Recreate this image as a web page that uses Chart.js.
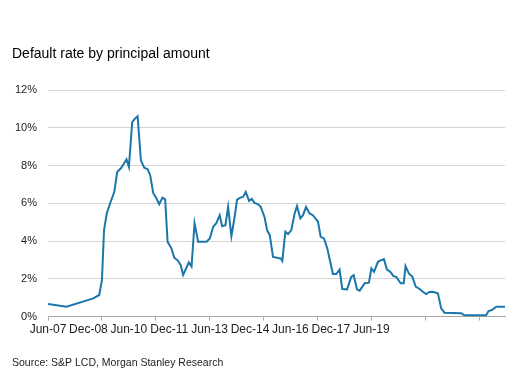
<!DOCTYPE html>
<html><head><meta charset="utf-8">
<script src="https://cdn.jsdelivr.net/npm/chart.js@4/dist/chart.umd.min.js"></script>
<style>html,body{margin:0;padding:0;background:#fff;}#wrap{width:507px;height:379px;position:relative;}</style>
</head><body><div id="wrap"><canvas id="c" width="507" height="379"></canvas></div>
<script>
const titleText = 'Default rate by principal amount';
const sourceText = 'Source: S&P LCD, Morgan Stanley Research';
const xLabels = ['Jun-07','Dec-08','Jun-10','Dec-11','Jun-13','Dec-14','Jun-16','Dec-17','Jun-19'];
const xTickMonths = [0,18,36,54,72,90,108,126,144];
const yTicks = [0,2,4,6,8,10,12];
// months since Jun-07 (as positioned on the reference axis)
const months = [0,6.2,15.1,17.1,18.0,18.7,19.6,20.7,22.1,23.1,24.4,26.2,27.0,28.1,29.0,29.9,31.0,32.1,33.2,34.1,35.1,36.2,37.1,38.2,39.1,39.9,41.2,42.1,43.4,44.3,45.1,47.0,47.9,48.9,50.1,52.9,54.0,55.1,56.2,57.3,58.1,59.2,60.1,61.2,62.1,63.1,64.2,65.1,66.0,67.1,68.0,68.9,70.1,71.0,72.3,73.1,74.0,75.1,76.8,77.7,78.2,79.2,80.1,81.2,82.3,83.1,84.2,85.1,86.1,87.3,88.4,90.1,91.0,92.1,93.2,94.3,95.1,96.2,97.3,98.2,99.8,101.2,102.0,103.1,104.0,105.7,107.1,107.9,108.8,110.1,111.2,112.1,113.1,114.2,115.3,116.2,117.7,118.7,119.3,120.4,121.6,122.7,124.0,125.1,126.2,127.3,128.4,130.1,131.2,132.3,137.9,139.0,146.2,147.0,148.1,149.6,152.5];
const defaultRate = [0.66,0.52,0.96,1.14,1.93,4.58,5.46,5.99,6.6,7.66,7.87,8.33,7.93,10.3,10.49,10.61,8.28,7.89,7.82,7.49,6.55,6.25,5.95,6.3,6.21,3.96,3.61,3.13,2.95,2.72,2.2,2.87,2.65,4.95,3.96,3.96,4.14,4.75,4.96,5.37,4.79,4.84,5.81,4.26,5.1,6.2,6.3,6.34,6.6,6.13,6.23,6.02,5.95,5.81,5.25,4.58,4.31,3.16,3.1,3.08,2.95,4.49,4.37,4.58,5.46,5.85,5.2,5.37,5.81,5.46,5.37,5.02,4.22,4.14,3.61,2.81,2.25,2.25,2.49,1.46,1.44,2.1,2.19,1.44,1.37,1.76,1.79,2.55,2.37,2.9,2.99,3.04,2.49,2.37,2.14,2.1,1.76,1.76,2.67,2.28,2.1,1.58,1.46,1.31,1.19,1.3,1.31,1.23,0.43,0.2,0.17,0.06,0.06,0.29,0.34,0.52,0.52];

const FONT = "'Liberation Sans', Arial, sans-serif";
const points = months.map((m, i) => ({x: m, y: defaultRate[i]}));

new Chart(document.getElementById('c'), {
  type: 'line',
  data: { datasets: [{
    data: points,
    borderColor: '#1b76a9',
    borderWidth: 2,
    pointRadius: 0,
    tension: 0,
    fill: false
  }]},
  options: {
    responsive: false,
    animation: false,
    devicePixelRatio: 1,
    layout: { padding: { left: 12, right: 2, top: 0, bottom: 0 } },
    plugins: {
      legend: { display: false },
      tooltip: { enabled: false },
      title: {
        display: true, text: titleText, align: 'start', color: '#000',
        font: { family: FONT, size: 14, weight: 'normal' },
        padding: { top: 45.6, bottom: 27.7 }
      },
      subtitle: {
        display: true, text: sourceText, align: 'start', position: 'bottom', color: '#222',
        font: { family: FONT, size: 10.5, weight: 'normal' },
        padding: { top: 6.2, bottom: 9.7 }
      }
    },
    scales: {
      x: {
        type: 'linear', position: 'bottom', min: 0, max: 152.5,
        afterBuildTicks: s => { s.ticks = xTickMonths.map(v => ({value: v})); },
        afterFit: s => { s.height = 4; },
        ticks: { display: false },
        grid: { drawOnChartArea: false, drawTicks: true, tickLength: 4, color: '#a6a6a6', lineWidth: 1 },
        border: { display: true, color: '#a6a6a6', width: 1 }
      },
      xl: {
        type: 'linear', position: 'bottom', min: 0, max: 11.31,
        afterBuildTicks: s => { s.ticks = xLabels.map((l, i) => ({value: i})); },
        afterFit: s => { s.height = 30; },
        ticks: {
          autoSkip: false, maxRotation: 0, minRotation: 0, padding: 1.5, color: '#222',
          font: { family: FONT, size: 12 },
          callback: v => xLabels[v]
        },
        grid: { display: false, drawTicks: false },
        border: { display: false }
      },
      y: {
        min: 0, max: 12,
        afterBuildTicks: s => { s.ticks = yTicks.map(v => ({value: v})); },
        afterFit: s => { s.width = 36; },
        ticks: { padding: 11, color: '#222', font: { family: FONT, size: 11 }, callback: v => v + '%' },
        grid: { color: '#d4d4d4', lineWidth: 1, drawTicks: false },
        border: { display: false }
      }
    }
  }
});
</script></body></html>
